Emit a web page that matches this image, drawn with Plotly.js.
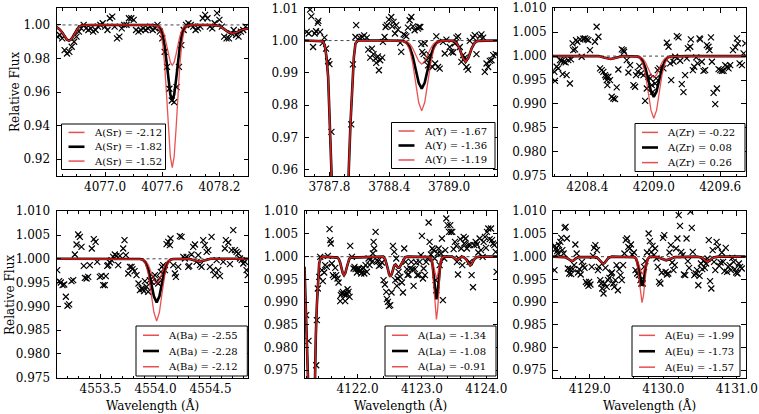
<!DOCTYPE html>
<html><head><meta charset="utf-8">
<script src="https://cdn.plot.ly/plotly-3.0.1.min.js"></script>
<style>html,body{margin:0;padding:0;background:#fff}#chart{width:759px;height:414px}</style>
</head><body><div id="chart"></div>
<script>
// ---------------- Sr ----------------
const srLabels = ['A(Sr) = -2.12', 'A(Sr) = -1.82', 'A(Sr) = -1.52'];
const srObsWave = [4076.500,4076.525,4076.550,4076.575,4076.600,4076.625,4076.650,4076.675,4076.700,4076.725,4076.750,4076.775,4076.800,4076.825,4076.850,4076.875,4076.900,4076.925,4076.950,4076.975,4077.000,4077.025,4077.050,4077.075,4077.100,4077.125,4077.150,4077.175,4077.200,4077.225,4077.250,4077.275,4077.300,4077.325,4077.350,4077.375,4077.400,4077.425,4077.450,4077.475,4077.500,4077.525,4077.550,4077.575,4077.600,4077.625,4077.650,4077.675,4077.700,4077.725,4077.750,4077.775,4077.800,4077.825,4077.850,4077.875,4077.900,4077.925,4077.950,4077.975,4078.000,4078.025,4078.050,4078.075,4078.100,4078.125,4078.150,4078.175,4078.200,4078.225,4078.250,4078.275,4078.300,4078.325,4078.350,4078.375,4078.400,4078.425,4078.450,4078.475];
const srObsFlux = [0.993,0.994,0.992,0.985,0.983,0.984,0.987,0.990,0.993,0.996,0.998,1.000,0.998,0.997,0.998,0.996,0.997,0.999,1.000,1.001,0.999,0.997,1.004,1.005,0.999,0.992,0.993,0.998,1.000,1.000,1.004,1.004,1.003,0.997,0.996,0.997,0.998,0.997,0.998,0.999,0.997,0.998,1.000,0.996,0.992,0.984,0.975,0.962,0.955,0.954,0.963,0.975,0.988,0.997,1.000,1.001,1.000,0.999,0.997,0.998,0.999,1.004,1.006,1.004,0.999,0.998,1.001,1.007,1.003,0.999,0.993,0.992,0.992,0.995,0.997,0.994,0.993,0.996,0.997,0.999];
const srModelWave = [4076.49,4076.52,4076.55,4076.58,4076.60,4076.62,4076.64,4076.66,4076.69,4076.72,4076.76,4076.85,4077.20,4077.50,4077.56,4077.585,4077.605,4077.625,4077.645,4077.665,4077.685,4077.705,4077.725,4077.745,4077.765,4077.785,4077.805,4077.825,4077.85,4077.90,4078.10,4078.20,4078.25,4078.30,4078.34,4078.38,4078.43,4078.50];
const srModelLow  = [0.9988,0.9975,0.9955,0.9925,0.9912,0.9907,0.9912,0.9928,0.9960,0.9985,0.9998,1.0,1.0,1.0,0.9996,0.9987,0.9968,0.9933,0.9883,0.9826,0.9778,0.976,0.9778,0.9826,0.9883,0.9933,0.9968,0.9987,0.9996,1.0,1.0,0.9995,0.9975,0.9955,0.995,0.9955,0.997,0.998];
const srModelBest = [0.9988,0.9975,0.9955,0.9925,0.9912,0.9907,0.9912,0.9928,0.9960,0.9985,0.9998,1.0,1.0,1.0,0.9993,0.9975,0.9939,0.9875,0.9781,0.9673,0.9585,0.955,0.9585,0.9673,0.9781,0.9875,0.9939,0.9975,0.9993,1.0,1.0,0.9995,0.9975,0.9955,0.995,0.9955,0.997,0.998];
const srModelHigh = [0.9988,0.9975,0.9955,0.9925,0.9912,0.9907,0.9912,0.9928,0.9960,0.9985,0.9998,1.0,1.0,1.0,0.9987,0.9952,0.9885,0.9764,0.9586,0.9383,0.9215,0.915,0.9215,0.9383,0.9586,0.9764,0.9885,0.9952,0.9987,1.0,1.0,0.9995,0.9975,0.9955,0.995,0.9955,0.997,0.998];

// ---------------- Y ----------------
const yLabels = ['A(Y) = -1.67', 'A(Y) = -1.36', 'A(Y) = -1.19'];
const yObsWave = [3787.572,3787.592,3787.606,3787.619,3787.636,3787.653,3787.666,3787.683,3787.689,3787.706,3787.733,3787.750,3787.766,3787.787,3787.800,3787.820,3788.018,3788.035,3788.061,3788.068,3788.102,3788.128,3788.148,3788.175,3788.189,3788.209,3788.226,3788.242,3788.262,3788.269,3788.286,3788.296,3788.309,3788.329,3788.336,3788.353,3788.363,3788.376,3788.396,3788.420,3788.430,3788.443,3788.457,3788.470,3788.487,3788.510,3788.520,3788.544,3788.557,3788.571,3788.587,3788.604,3788.621,3788.638,3788.654,3788.688,3788.698,3788.711,3788.721,3788.731,3788.745,3788.755,3788.772,3788.788,3788.805,3788.832,3788.859,3788.872,3788.889,3788.906,3788.939,3788.956,3788.973,3789.006,3789.023,3789.040,3789.056,3789.073,3789.090,3789.107,3789.123,3789.140,3789.157,3789.174,3789.190,3789.207,3789.241,3789.257,3789.274,3789.308,3789.324,3789.341,3789.358,3789.375,3789.391,3789.408,3789.425,3789.442,3789.468];
const yObsFlux = [1.0027,1.0022,1.0096,1.0075,0.9980,1.0022,1.0029,1.0055,1.0061,1.0027,0.9993,1.0009,0.9975,0.9936,0.9927,0.9717,0.9740,0.9926,1.0011,1.0048,1.0009,1.0011,1.0016,1.0009,0.9972,0.9947,0.9975,0.9958,0.9944,0.9931,0.9951,0.9908,0.9939,0.9947,0.9996,1.0011,1.0042,1.0048,1.0065,1.0073,1.0044,1.0058,1.0022,1.0048,1.0034,0.9993,0.9965,1.0019,1.0017,1.0013,1.0040,1.0063,1.0073,1.0044,1.0032,1.0037,1.0042,1.0042,0.9989,0.9965,0.9958,0.9991,0.9939,0.9923,0.9955,0.9918,0.9929,1.0013,0.9918,0.9913,0.9996,0.9960,1.0003,0.9980,0.9965,0.9963,0.9991,1.0009,1.0013,0.9980,0.9934,0.9955,0.9947,0.9918,0.9910,0.9999,1.0009,1.0017,0.9958,1.0013,1.0019,1.0009,0.9903,0.9929,0.9918,0.9937,0.9939,0.9955,0.9958];
const yModelWave = [3787.55,3787.70,3787.733,3787.753,3787.77,3787.787,3787.80,3787.813,3787.823,3787.84,3787.87,3787.91,3787.95,3787.975,3787.994,3788.011,3788.028,3788.045,3788.061,3788.085,3788.40,3788.535,3788.575,3788.605,3788.635,3788.665,3788.695,3788.725,3788.755,3788.785,3788.815,3788.845,3788.875,3788.915,3788.95,3789.045,3789.075,3789.105,3789.135,3789.165,3789.195,3789.225,3789.255,3789.285,3789.48];
const yModelLow  = [1.0,1.0,0.9998,0.9986,0.995,0.9887,0.9784,0.966,0.957,0.92,0.87,0.85,0.88,0.93,0.96,0.9743,0.9867,0.9949,0.9991,1.0,1.0,0.9999,0.9997,0.999,0.9976,0.9956,0.9936,0.9927,0.9936,0.9956,0.9976,0.999,0.9997,0.9999,1.0,0.9999,0.9993,0.9975,0.9948,0.9934,0.9948,0.9975,0.9993,0.9999,1.0];
const yModelBest = [1.0,1.0,0.9998,0.9986,0.995,0.9887,0.9784,0.966,0.957,0.92,0.87,0.85,0.88,0.93,0.96,0.9743,0.9867,0.9949,0.9991,1.0,1.0,0.9999,0.9993,0.998,0.9952,0.991,0.9869,0.9851,0.9869,0.991,0.9952,0.998,0.9993,0.9999,1.0,0.9999,0.9993,0.9975,0.9948,0.9934,0.9948,0.9975,0.9993,0.9999,1.0];
const yModelHigh = [1.0,1.0,0.9998,0.9986,0.995,0.9887,0.9784,0.966,0.957,0.92,0.87,0.85,0.88,0.93,0.96,0.9743,0.9867,0.9949,0.9991,1.0,1.0,0.9998,0.999,0.9971,0.9929,0.9868,0.9808,0.9782,0.9808,0.9868,0.9929,0.9971,0.999,0.9998,1.0,0.9999,0.9993,0.9975,0.9948,0.9934,0.9948,0.9975,0.9993,0.9999,1.0];

// ---------------- Zr ----------------
const zrLabels = ['A(Zr) = -0.22', 'A(Zr) = 0.08', 'A(Zr) = 0.26'];
const zrObsWave = [4208.102,4208.108,4208.123,4208.138,4208.153,4208.168,4208.177,4208.189,4208.204,4208.213,4208.228,4208.243,4208.252,4208.267,4208.273,4208.289,4208.298,4208.310,4208.334,4208.349,4208.364,4208.379,4208.394,4208.409,4208.424,4208.469,4208.484,4208.500,4208.515,4208.530,4208.545,4208.560,4208.569,4208.575,4208.581,4208.590,4208.605,4208.620,4208.635,4208.650,4208.665,4208.680,4208.711,4208.726,4208.732,4208.756,4208.771,4208.786,4208.816,4208.831,4208.840,4208.855,4208.870,4208.885,4208.907,4208.922,4208.937,4208.952,4208.967,4208.982,4208.991,4209.012,4209.021,4209.036,4209.051,4209.087,4209.118,4209.133,4209.148,4209.157,4209.178,4209.193,4209.208,4209.223,4209.238,4209.253,4209.268,4209.283,4209.298,4209.308,4209.329,4209.335,4209.353,4209.365,4209.383,4209.395,4209.413,4209.419,4209.434,4209.449,4209.464,4209.479,4209.494,4209.503,4209.516,4209.525,4209.540,4209.555,4209.570,4209.585,4209.600,4209.615,4209.630,4209.645,4209.660,4209.675,4209.690,4209.715,4209.736,4209.751,4209.760,4209.775,4209.796,4209.811,4209.826];
const zrObsFlux = [0.99672,0.99484,0.99777,0.99742,0.99916,0.99902,0.99624,0.99882,0.99868,0.99603,0.99916,0.99428,0.99930,1.00265,1.00125,1.00139,1.00335,1.00300,1.00349,0.99986,1.00362,1.00370,1.00349,1.00335,1.00125,1.00300,1.00613,1.00404,0.99742,0.99707,0.99672,0.99603,0.99568,0.99498,0.99394,0.99568,0.99498,0.99150,0.99115,0.99101,0.99345,0.99721,1.00139,1.00125,1.00091,0.99916,0.99658,0.99812,0.99394,0.99359,0.99603,0.99672,0.99791,0.99638,0.99603,0.99066,0.99324,0.99568,0.99533,0.99394,0.99254,0.99428,0.99533,0.99707,0.99742,0.99742,1.00279,1.00195,0.99847,0.99498,0.99882,0.99986,1.00418,1.00390,0.99902,0.99415,0.99247,0.99603,0.99951,1.00160,1.00195,1.00349,0.99707,0.99777,0.99972,0.99847,1.00370,1.00349,0.99882,0.99693,0.99707,1.00230,1.00195,1.00125,1.00390,0.99882,0.99233,0.98996,0.99324,0.99728,0.99707,0.99693,0.99693,0.99812,0.99777,0.99742,0.99812,1.00125,1.00181,1.00370,1.00265,0.99847,0.99812,1.00056,1.00265];
const zrModelWave = [4208.09,4208.50,4208.55,4208.58,4208.61,4208.64,4208.67,4208.72,4208.85,4208.875,4208.90,4208.925,4208.95,4208.975,4209.00,4209.025,4209.05,4209.075,4209.10,4209.125,4209.15,4209.30,4209.84];
const zrModelLow  = [1.0,1.0,0.9997,0.99955,0.9994,0.99955,0.9997,1.0,0.99996,0.99985,0.9995,0.9987,0.9974,0.9961,0.9955,0.9961,0.9974,0.9987,0.9995,0.99985,0.99996,1.0,1.0];
const zrModelBest = [1.0,1.0,0.9997,0.99955,0.9994,0.99955,0.9997,1.0,0.99993,0.9997,0.999,0.9975,0.9951,0.9926,0.9915,0.9926,0.9951,0.9975,0.999,0.9997,0.99993,1.0,1.0];
const zrModelHigh = [1.0,1.0,0.9997,0.99955,0.9994,0.99955,0.9997,1.0,0.9999,0.99956,0.9985,0.99617,0.99245,0.98865,0.987,0.98865,0.99245,0.99617,0.9985,0.99956,0.9999,1.0,1.0];

// ---------------- Ba ----------------
const baLabels = ['A(Ba) = -2.55', 'A(Ba) = -2.28', 'A(Ba) = -2.12'];
const baObsWave = [4553.106,4553.124,4553.139,4553.155,4553.170,4553.185,4553.200,4553.215,4553.236,4553.252,4553.267,4553.282,4553.297,4553.312,4553.327,4553.348,4553.358,4553.373,4553.388,4553.403,4553.421,4553.439,4553.455,4553.470,4553.494,4553.509,4553.524,4553.539,4553.548,4553.561,4553.570,4553.585,4553.600,4553.615,4553.630,4553.645,4553.661,4553.676,4553.706,4553.718,4553.730,4553.752,4553.767,4553.782,4553.791,4553.809,4553.827,4553.845,4553.858,4553.873,4553.882,4553.894,4553.903,4553.918,4553.933,4553.948,4553.964,4553.979,4553.994,4554.009,4554.024,4554.039,4554.048,4554.058,4554.070,4554.085,4554.100,4554.115,4554.130,4554.136,4554.161,4554.176,4554.185,4554.206,4554.221,4554.236,4554.252,4554.267,4554.282,4554.297,4554.306,4554.327,4554.342,4554.358,4554.373,4554.388,4554.403,4554.418,4554.433,4554.448,4554.464,4554.479,4554.494,4554.509,4554.524,4554.539,4554.555,4554.570,4554.585,4554.615,4554.630,4554.639,4554.661,4554.676,4554.691,4554.706,4554.721,4554.736,4554.752,4554.767,4554.782,4554.797,4554.812,4554.827,4554.838];
const baObsFlux = [0.99762,0.99531,0.99503,0.99447,0.99461,0.99202,0.99013,0.99041,0.99531,0.99552,1.00091,1.00301,1.00511,1.00462,1.00252,0.99853,0.99601,0.99587,0.99622,0.99867,1.00217,1.00413,1.00357,0.99937,0.99622,0.99643,0.99447,0.99447,0.99636,0.99853,0.99867,0.99923,0.99972,1.00042,1.00091,1.00063,0.99867,1.00063,1.00217,1.00392,1.00077,0.99692,0.99832,0.99832,0.99783,0.99741,0.99657,0.99482,0.99342,0.99377,0.99363,0.99321,0.99531,0.99412,0.99307,0.99552,0.99517,0.99622,0.99657,0.99517,0.99482,0.99601,0.99727,0.99832,0.99867,0.99762,1.00308,1.00357,1.00287,1.00427,0.99867,0.99692,0.99622,0.99832,1.00476,1.00462,1.00042,1.00007,1.00042,0.99832,0.99853,1.00091,1.00252,1.00301,0.99937,1.00077,0.99867,0.99832,1.00392,1.00287,1.00147,1.00182,0.99832,1.00462,0.99762,0.99657,0.99972,0.99762,0.99636,0.99937,1.00217,1.00392,1.00343,0.99888,1.00182,1.00602,1.00182,1.00147,1.00112,1.00007,0.99972,0.99902,0.99937,0.99762,0.99657];
const baModelWave = [4553.10,4553.86,4553.885,4553.91,4553.935,4553.96,4553.985,4554.01,4554.035,4554.06,4554.085,4554.11,4554.135,4554.16,4554.30,4554.35,4554.40,4554.45,4554.50,4554.84];
const baModelLow  = [1.0,0.99998,0.99989,0.99956,0.99871,0.9972,0.99554,0.9948,0.99554,0.9972,0.99871,0.99956,0.99989,0.99998,1.0,0.9997,0.9994,0.9997,1.0,1.0];
const baModelBest = [1.0,0.99996,0.9998,0.99922,0.99771,0.99504,0.99212,0.9908,0.99212,0.99504,0.99771,0.99922,0.9998,0.99996,1.0,0.9997,0.9994,0.9997,1.0,1.0];
const baModelHigh = [1.0,0.99995,0.99972,0.99889,0.99674,0.99294,0.98877,0.9869,0.98877,0.99294,0.99674,0.99889,0.99972,0.99995,1.0,0.9997,0.9994,0.9997,1.0,1.0];

// ---------------- La ----------------
const laLabels = ['A(La) = -1.34', 'A(La) = -1.08', 'A(La) = -0.91'];
const laObsWave = [4121.202,4121.238,4121.358,4121.368,4121.383,4121.404,4121.420,4121.446,4121.461,4121.482,4121.497,4121.523,4121.539,4121.565,4121.575,4121.585,4121.601,4121.617,4121.637,4121.653,4121.668,4121.689,4121.705,4121.731,4121.741,4121.756,4121.772,4121.793,4121.808,4121.824,4121.834,4121.845,4121.860,4121.876,4121.886,4121.912,4121.938,4121.953,4121.969,4121.990,4122.005,4122.021,4122.041,4122.057,4122.073,4122.093,4122.104,4122.124,4122.145,4122.171,4122.187,4122.207,4122.223,4122.238,4122.249,4122.259,4122.280,4122.301,4122.316,4122.332,4122.352,4122.378,4122.404,4122.425,4122.446,4122.456,4122.472,4122.487,4122.508,4122.528,4122.549,4122.570,4122.585,4122.601,4122.611,4122.622,4122.637,4122.663,4122.689,4122.705,4122.725,4122.746,4122.767,4122.777,4122.793,4122.819,4122.834,4122.855,4122.870,4122.891,4122.912,4122.927,4122.948,4122.964,4122.984,4123.000,4123.016,4123.026,4123.047,4123.067,4123.088,4123.104,4123.119,4123.140,4123.161,4123.181,4123.197,4123.212,4123.223,4123.244,4123.259,4123.275,4123.295,4123.311,4123.326,4123.347,4123.363,4123.378,4123.399,4123.420,4123.440,4123.451,4123.472,4123.492,4123.513,4123.534,4123.544,4123.560,4123.575,4123.596,4123.611,4123.627,4123.648,4123.658,4123.679,4123.699,4123.720,4123.741,4123.751,4123.772,4123.793,4123.813,4123.834,4123.855,4123.876,4123.896,4123.917,4123.943,4123.959,4123.979,4123.995,4124.010,4124.031,4124.052,4124.073,4124.088,4124.104,4124.124,4124.145,4124.160];
const laObsFlux = [0.98712,0.98147,0.97611,0.98602,0.99299,0.99556,0.99996,0.99703,0.99461,0.99651,0.99813,0.99776,1.00018,1.00606,1.00363,1.00290,0.99850,0.99593,0.99556,0.99754,0.99593,0.99519,0.99431,0.99020,0.99152,0.99189,0.99225,0.99167,0.99020,0.99152,0.99189,0.99284,0.99225,0.99116,1.00239,0.99996,0.99740,0.99776,0.99725,0.99651,0.99725,0.99740,0.99681,0.99629,0.99725,0.99754,0.99629,0.99813,0.99666,0.99960,0.99813,0.99945,0.99886,1.00070,1.00327,1.00180,1.00547,0.99923,0.99901,0.99798,0.99813,0.99872,0.99483,0.99387,0.99225,0.99064,0.99005,0.98917,0.98932,0.99211,1.00239,1.00106,0.99483,0.99960,0.99358,0.99519,0.99666,0.99556,0.99431,0.99211,1.00180,0.99886,0.99725,0.99593,0.99607,0.99740,0.99886,0.99725,0.99358,0.99725,0.99872,0.99593,0.99593,0.99886,1.00033,1.00459,0.99519,0.99740,0.99593,0.99886,0.99960,1.00752,1.00327,1.00048,1.00180,1.00143,0.99960,0.99483,0.99262,1.00070,1.00180,0.99813,1.00070,1.00400,0.99042,0.99960,1.00143,1.00840,1.00694,1.00547,1.00694,1.00547,1.00547,1.00165,1.00327,1.00239,0.99886,0.99607,0.99960,1.00385,1.00180,0.99813,1.00437,1.00290,1.00400,1.00180,1.00253,0.99886,1.00253,0.99593,0.99328,1.00253,1.00327,1.00268,1.00092,1.00400,1.00143,0.99996,1.00327,1.00437,1.00195,1.00547,1.00620,1.00385,1.00620,1.00363,1.00290,1.00253,1.00106,0.99666];
const laModelWave = [4121.176,4121.192,4121.212,4121.233,4121.26,4121.29,4121.316,4121.332,4121.352,4121.368,4121.383,4121.404,4121.43,4121.472,4121.69,4121.71,4121.73,4121.75,4121.77,4121.79,4121.81,4121.83,4121.85,4121.87,4121.89,4122.40,4122.43,4122.45,4122.47,4122.49,4122.51,4122.53,4122.55,4122.57,4122.59,4122.61,4122.63,4122.65,4122.67,4122.69,4122.71,4122.74,4122.78,4123.105,4123.125,4123.145,4123.165,4123.185,4123.205,4123.225,4123.245,4123.265,4123.285,4123.305,4123.325,4123.345,4123.47,4123.51,4123.545,4123.58,4123.62,4123.65,4123.69,4123.71,4123.73,4123.75,4123.77,4123.79,4123.81,4123.85,4123.90,4124.166];
const laModelLow  = [0.9978,0.9915,0.9827,0.972,0.95,0.94,0.955,0.972,0.9827,0.9893,0.9945,0.9985,0.9998,1.0,0.9998,0.99945,0.99867,0.99751,0.99638,0.9959,0.99638,0.99751,0.99867,0.99945,0.9998,1.0,0.9994,0.99857,0.99733,0.99612,0.9956,0.99612,0.99713,0.99803,0.99825,0.9979,0.99758,0.99758,0.9981,0.99886,0.99946,0.9999,1.0,1.0,0.99995,0.99975,0.99908,0.9977,0.99601,0.9952,0.99601,0.9977,0.99908,0.99975,0.99995,1.0,1.0,0.9996,0.9992,0.9996,1.0,0.9999,0.99938,0.99885,0.99832,0.9981,0.99832,0.99885,0.99938,0.9999,1.0,1.0];
const laModelBest = [0.9978,0.9915,0.9827,0.972,0.95,0.94,0.955,0.972,0.9827,0.9893,0.9945,0.9985,0.9998,1.0,0.9998,0.99945,0.99867,0.99751,0.99638,0.9959,0.99638,0.99751,0.99867,0.99945,0.9998,1.0,0.9994,0.99857,0.99733,0.99612,0.9956,0.99612,0.99713,0.99803,0.99825,0.9979,0.99758,0.99758,0.9981,0.99886,0.99946,0.9999,1.0,1.0,0.9999,0.9995,0.9982,0.99549,0.99218,0.9906,0.99218,0.99549,0.9982,0.9995,0.9999,1.0,1.0,0.9996,0.9992,0.9996,1.0,0.9999,0.99938,0.99885,0.99832,0.9981,0.99832,0.99885,0.99938,0.9999,1.0,1.0];
const laModelHigh = [0.9978,0.9915,0.9827,0.972,0.95,0.94,0.955,0.972,0.9827,0.9893,0.9945,0.9985,0.9998,1.0,0.9998,0.99945,0.99867,0.99751,0.99638,0.9959,0.99638,0.99751,0.99867,0.99945,0.9998,1.0,0.9994,0.99857,0.99733,0.99612,0.9956,0.99612,0.99713,0.99803,0.99825,0.9979,0.99758,0.99758,0.9981,0.99886,0.99946,0.9999,1.0,1.0,0.99986,0.99927,0.99736,0.99338,0.98852,0.9862,0.98852,0.99338,0.99736,0.99927,0.99986,1.0,1.0,0.9996,0.9992,0.9996,1.0,0.9999,0.99938,0.99885,0.99832,0.9981,0.99832,0.99885,0.99938,0.9999,1.0,1.0];

// ---------------- Eu ----------------
const euLabels = ['A(Eu) = -1.99', 'A(Eu) = -1.73', 'A(Eu) = -1.57'];
const euObsWave = [4128.520,4128.524,4128.542,4128.556,4128.564,4128.582,4128.600,4128.613,4128.627,4128.644,4128.658,4128.671,4128.689,4128.702,4128.720,4128.733,4128.747,4128.769,4128.787,4128.804,4128.822,4128.840,4128.858,4128.876,4128.893,4128.911,4128.929,4128.947,4128.964,4128.982,4128.991,4129.009,4129.027,4129.044,4129.058,4129.076,4129.098,4129.111,4129.124,4129.142,4129.156,4129.169,4129.187,4129.200,4129.213,4129.231,4129.249,4129.267,4129.289,4129.302,4129.320,4129.333,4129.347,4129.364,4129.382,4129.400,4129.418,4129.436,4129.453,4129.471,4129.489,4129.507,4129.524,4129.542,4129.560,4129.578,4129.600,4129.622,4129.644,4129.667,4129.689,4129.702,4129.720,4129.738,4129.756,4129.778,4129.800,4129.818,4129.836,4129.853,4129.871,4129.889,4129.907,4129.924,4129.942,4129.960,4129.978,4129.996,4130.013,4130.031,4130.049,4130.067,4130.084,4130.102,4130.120,4130.138,4130.156,4130.173,4130.191,4130.209,4130.227,4130.244,4130.262,4130.280,4130.298,4130.316,4130.333,4130.351,4130.369,4130.387,4130.400,4130.422,4130.440,4130.458,4130.476,4130.493,4130.511,4130.529,4130.547,4130.564,4130.582,4130.600,4130.618,4130.636,4130.653,4130.671,4130.689,4130.707,4130.724,4130.742,4130.760,4130.778,4130.796,4130.813,4130.831,4130.849,4130.867,4130.884,4130.902,4130.920,4130.938,4130.956,4130.973,4130.991,4131.009,4131.027,4131.044,4131.067];
const euObsFlux = [0.99703,1.00239,1.00180,1.00121,1.00070,1.00253,1.00327,1.00415,1.00143,1.00070,1.00635,1.00657,1.00400,0.99740,0.99629,0.99725,0.99615,0.99725,0.99813,1.00268,1.00070,0.99651,0.99725,0.99607,0.99886,0.99798,0.99754,0.99446,0.99409,0.99358,0.99446,0.99387,0.99776,1.00018,1.00195,1.00253,1.00143,0.99703,0.99776,0.99483,0.99409,0.99299,0.99189,0.99409,0.99754,0.99336,0.99483,0.99534,0.99629,0.99651,0.99409,0.99336,0.99483,0.99813,0.99262,0.99725,0.99593,0.99483,0.99813,1.00070,1.00363,1.00400,1.00217,1.00180,1.00268,1.00048,1.00092,0.99703,0.99629,0.99593,0.99483,0.99409,0.99409,0.99776,0.99901,1.00092,1.00510,1.00341,1.00106,1.00239,1.00033,1.00180,0.99960,0.99776,0.99446,0.99409,0.99651,1.00415,1.00473,0.99666,0.99607,0.99629,1.00092,1.00253,0.99872,0.99703,0.99813,1.00180,1.00400,1.00914,1.00679,1.00106,1.00033,0.99607,0.99593,1.00400,0.99901,0.99754,1.00990,1.00635,1.00106,0.99593,0.99629,0.99703,0.99372,0.99578,0.99850,0.99725,0.99901,0.99754,0.99850,0.99960,1.00363,0.99461,0.99299,1.00143,0.99886,0.99703,1.00327,1.00217,0.99798,0.99872,1.00092,0.99886,0.99681,1.00195,0.99666,0.99776,0.99813,0.99703,0.99974,0.99886,0.99725,0.99651,0.99629,0.99850,0.99776,0.99740];
const euModelWave = [4128.50,4128.66,4128.70,4128.73,4128.755,4128.78,4128.81,4128.85,4129.08,4129.11,4129.14,4129.16,4129.18,4129.20,4129.22,4129.25,4129.28,4129.30,4129.61,4129.63,4129.65,4129.67,4129.69,4129.71,4129.73,4129.75,4129.77,4129.79,4129.81,4129.84,4129.92,4129.98,4130.04,4130.10,4130.16,4130.45,4130.52,4130.56,4130.60,4130.64,4130.68,4130.75,4131.12];
const euModelLow  = [1.0,0.9999,0.99961,0.99918,0.999,0.99918,0.99961,0.9999,0.9999,0.99965,0.99903,0.99859,0.9984,0.99859,0.99903,0.99965,0.9999,1.0,0.99993,0.99972,0.9991,0.99797,0.99669,0.9961,0.99669,0.99797,0.9991,0.99972,0.99993,1.0,0.9999,0.99955,0.9992,0.99955,0.9999,1.0,0.9998,0.9993,0.9988,0.9993,0.9998,1.0,1.0];
const euModelBest = [1.0,0.9999,0.99961,0.99918,0.999,0.99918,0.99961,0.9999,0.9999,0.99965,0.99903,0.99859,0.9984,0.99859,0.99903,0.99965,0.9999,1.0,0.99989,0.99953,0.99853,0.99667,0.99457,0.9936,0.99457,0.99667,0.99853,0.99953,0.99989,1.0,0.9999,0.99955,0.9992,0.99955,0.9999,1.0,0.9998,0.9993,0.9988,0.9993,0.9998,1.0,1.0];
const euModelHigh = [1.0,0.9999,0.99961,0.99918,0.999,0.99918,0.99961,0.9999,0.9999,0.99965,0.99903,0.99859,0.9984,0.99859,0.99903,0.99965,0.9999,1.0,0.99983,0.99926,0.99768,0.99475,0.99143,0.9899,0.99143,0.99475,0.99768,0.99926,0.99983,1.0,0.9999,0.99955,0.9992,0.99955,0.9999,1.0,0.9998,0.9993,0.9988,0.9993,0.9998,1.0,1.0];

// ---------------- layout / style (pixels in a 759x414 page) ----------------
const W = 759, H = 414;
const FONT = 'DejaVu Serif';
const RED = 'rgba(228,32,32,0.78)';
const RED_LEG = 'rgb(232,80,80)';
const panels = [
  {obsW:srObsWave, obsF:srObsFlux, modW:srModelWave, lo:srModelLow, best:srModelBest, hi:srModelHigh, labels:srLabels,
   px:[56.5,248], py:[8,176], xr:[4076.49,4078.50], yr:[0.910,1.0101], xt0:4077.0, xdt:0.6, xmin:0.15, yt0:0.92, ydt:0.02, yfmt:'.2f', box:[61.5,165.5,124,169.5]},
  {obsW:yObsWave, obsF:yObsFlux, modW:yModelWave, lo:yModelLow, best:yModelBest, hi:yModelHigh, labels:yLabels,
   px:[304.5,497], py:[8,176], xr:[3787.55,3789.48], yr:[0.958,1.0101], xt0:3787.8, xdt:0.6, xmin:0.15, yt0:0.96, ydt:0.01, yfmt:'.2f', box:[391.5,495,122.5,168.5]},
  {obsW:zrObsWave, obsF:zrObsFlux, modW:zrModelWave, lo:zrModelLow, best:zrModelBest, hi:zrModelHigh, labels:zrLabels,
   px:[553,745.7], py:[8,176], xr:[4208.09,4209.83], yr:[0.97495,1.01005], xt0:4208.4, xdt:0.6, xmin:0.15, yt0:0.975, ydt:0.005, yfmt:'.3f', box:[635,745,123.5,171.5]},
  {obsW:baObsWave, obsF:baObsFlux, modW:baModelWave, lo:baModelLow, best:baModelBest, hi:baModelHigh, labels:baLabels,
   px:[56.5,248], py:[211,378], xr:[4553.10,4554.84], yr:[0.97495,1.01005], xt0:4553.5, xdt:0.5, xmin:0.1, yt0:0.975, ydt:0.005, yfmt:'.3f', box:[136,247.3,326,376]},
  {obsW:laObsWave, obsF:laObsFlux, modW:laModelWave, lo:laModelLow, best:laModelBest, hi:laModelHigh, labels:laLabels,
   px:[304.5,497], py:[211,378], xr:[4121.176,4124.166], yr:[0.9733,1.01005], xt0:4122.0, xdt:1.0, xmin:0.2, yt0:0.975, ydt:0.005, yfmt:'.3f', box:[385,496,326,376]},
  {obsW:euObsWave, obsF:euObsFlux, modW:euModelWave, lo:euModelLow, best:euModelBest, hi:euModelHigh, labels:euLabels,
   px:[553,745.7], py:[211,378], xr:[4128.50,4131.12], yr:[0.9733,1.01005], xt0:4129.0, xdt:1.0, xmin:0.2, yt0:0.975, ydt:0.005, yfmt:'.3f', box:[632,740,326,376.5]}
];

const data = [];
const layout = {
  width: W, height: H, margin: {l:0, r:0, t:0, b:0},
  paper_bgcolor: '#fff', plot_bgcolor: '#fff',
  font: {family: FONT, size: 12, color: '#000'},
  hovermode: false, showlegend: false, shapes: [], annotations: []
};
const px2x = v => v / W, px2y = v => 1 - v / H;

panels.forEach((p, i) => {
  const n = i + 1;
  const xs = n === 1 ? '' : String(n);
  const xa = 'x' + xs, ya = 'y' + xs;
  const axCommon = {
    showline: true, linecolor: '#000', linewidth: 1, mirror: 'allticks',
    ticks: 'inside', ticklen: 4.5, tickwidth: 1, tickcolor: '#000',
    showgrid: false, zeroline: false, tickmode: 'linear', ticklabeloverflow: 'allow',
    tickfont: {family: FONT, size: 12, color: '#000'}
  };
  layout['xaxis' + xs] = Object.assign({}, axCommon, {
    domain: [p.px[0] / W, p.px[1] / W], range: p.xr, anchor: ya,
    tick0: p.xt0, dtick: p.xdt, tickformat: '.1f', ticklabelstandoff: 0,
    minor: {ticks: 'inside', ticklen: 2.5, tickwidth: 1, tickcolor: '#000', tick0: p.xt0, dtick: p.xmin, showgrid: false}
  });
  layout['yaxis' + xs] = Object.assign({}, axCommon, {
    domain: [1 - p.py[1] / H, 1 - p.py[0] / H], range: p.yr, anchor: xa,
    tick0: p.yt0, dtick: p.ydt, tickformat: p.yfmt, ticklabelstandoff: 3
  });
  layout.shapes.push({type: 'line', xref: xa + ' domain', yref: ya, x0: 0, x1: 1, y0: 1, y1: 1,
    line: {color: '#444', width: 1, dash: 'dot'}, layer: 'below'});

  data.push({x: p.obsW, y: p.obsF, xaxis: xa, yaxis: ya, type: 'scatter', mode: 'markers',
    marker: {symbol: 'x-thin-open', size: 6, color: '#000', line: {width: 1.2, color: '#000'}}});
  data.push({x: p.modW, y: p.best, xaxis: xa, yaxis: ya, type: 'scatter', mode: 'lines',
    line: {color: '#000', width: 2.6}, name: p.labels[1]});
  data.push({x: p.modW, y: p.lo, xaxis: xa, yaxis: ya, type: 'scatter', mode: 'lines',
    line: {color: RED, width: 1.3}, name: p.labels[0]});
  data.push({x: p.modW, y: p.hi, xaxis: xa, yaxis: ya, type: 'scatter', mode: 'lines',
    line: {color: RED, width: 1.3}, name: p.labels[2]});

  // legend box drawn in page pixels
  const [bl, br, bt, bb] = p.box;
  const bh = bb - bt;
  layout.shapes.push({type: 'rect', xref: 'paper', yref: 'paper', x0: px2x(bl), x1: px2x(br), y0: px2y(bb), y1: px2y(bt),
    fillcolor: '#fff', line: {color: '#000', width: 1}, layer: 'above'});
  const rows = [0.185, 0.5, 0.815];
  const legStyles = [{c: RED_LEG, w: 1.5}, {c: '#000', w: 2.6}, {c: RED_LEG, w: 1.5}];
  rows.forEach((f, k) => {
    const yy = bt + bh * f;
    layout.shapes.push({type: 'line', xref: 'paper', yref: 'paper', x0: px2x(bl + 7), x1: px2x(bl + 23), y0: px2y(yy), y1: px2y(yy),
      line: {color: legStyles[k].c, width: legStyles[k].w}, layer: 'above'});
    layout.annotations.push({text: p.labels[k], xref: 'paper', yref: 'paper', x: px2x(bl + 30), y: px2y(yy),
      xanchor: 'left', yanchor: 'middle', showarrow: false, font: {family: FONT, size: 10, color: '#000'}});
  });
});

const titleFont = {family: FONT, size: 12, color: '#000'};
layout.annotations.push(
  {text: 'Relative Flux', xref: 'paper', yref: 'paper', x: px2x(15), y: px2y(92), textangle: -90, showarrow: false, xanchor: 'center', yanchor: 'middle', font: titleFont},
  {text: 'Relative Flux', xref: 'paper', yref: 'paper', x: px2x(10), y: px2y(295), textangle: -90, showarrow: false, xanchor: 'center', yanchor: 'middle', font: titleFont},
  {text: 'Wavelength (Å)', xref: 'paper', yref: 'paper', x: px2x(152), y: px2y(405), showarrow: false, xanchor: 'center', yanchor: 'middle', font: titleFont},
  {text: 'Wavelength (Å)', xref: 'paper', yref: 'paper', x: px2x(400.6), y: px2y(405), showarrow: false, xanchor: 'center', yanchor: 'middle', font: titleFont},
  {text: 'Wavelength (Å)', xref: 'paper', yref: 'paper', x: px2x(649), y: px2y(405), showarrow: false, xanchor: 'center', yanchor: 'middle', font: titleFont}
);

Plotly.newPlot('chart', data, layout, {staticPlot: true, displayModeBar: false});
</script>
</body></html>
